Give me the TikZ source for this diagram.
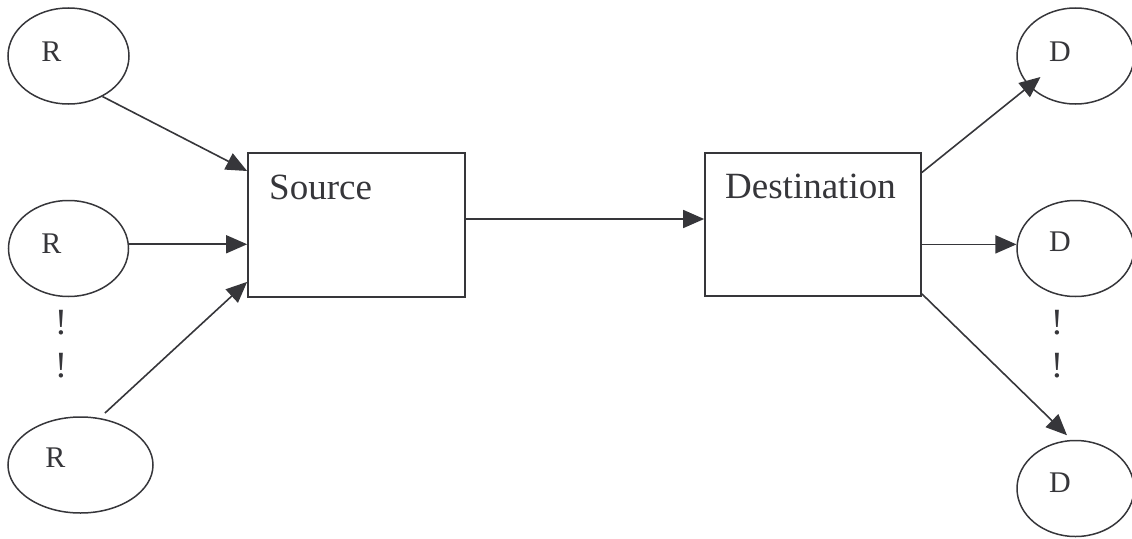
\documentclass[tikz,border=0pt]{standalone}
\usepackage{fontspec}
\setmainfont{Liberation Serif}
\usetikzlibrary{shapes.geometric,arrows.meta}
\definecolor{ink}{RGB}{54,54,58}
\tikzset{
  oval/.style={ellipse,draw=ink,line width=1.5pt,inner sep=0pt},
  boxnode/.style={rectangle,draw=ink,line width=1.7pt,inner sep=0pt},
  small/.style={text=ink,inner sep=0pt,anchor=base,font=\fontsize{30}{34}\selectfont},
  big/.style={text=ink,inner sep=0pt,anchor=base west,font=\fontsize{37}{42}\selectfont},
  bang/.style={text=ink,inner sep=0pt,anchor=base,font=\fontsize{37}{42}\selectfont},
  conn/.style={draw=ink,line width=1.6pt,-{Triangle[length=21pt,width=18pt]}}
}
\begin{document}
\begin{tikzpicture}[x=1pt,y=-1pt]
\useasboundingbox (0,0) rectangle (1132,538);
% ellipses
\node[oval,minimum width=121pt,minimum height=96pt] (r1) at (68.5,56) {};
\node[oval,minimum width=120pt,minimum height=96pt] (r2) at (68.5,248.5) {};
\node[oval,minimum width=145pt,minimum height=96pt] (r3) at (80.5,465) {};
\node[oval,minimum width=117pt,minimum height=96pt] (d1) at (1075.5,56) {};
\node[oval,minimum width=117pt,minimum height=96pt] (d2) at (1075.5,248.5) {};
\node[oval,minimum width=117pt,minimum height=96pt] (d3) at (1075.5,488.5) {};
% labels
\node[small] (lr1) at (51.5,61.5) {R};
\node[small] (lr2) at (51.5,253) {R};
\node[small] (lr3) at (55.5,467.5) {R};
\node[small] (ld1) at (1060,61.5) {D};
\node[small] (ld2) at (1060,251.5) {D};
\node[small] (ld3) at (1060,492.5) {D};
% boxes
\node[boxnode,minimum width=217pt,minimum height=144pt] (src) at (356.5,225) {};
\node[boxnode,minimum width=216pt,minimum height=143pt] (dst) at (813,224.5) {};
\node[big] (srclbl) at (269,199) {Source};
\node[big] (dstlbl) at (725,198) {Destination};
% dots
\node[bang] (e1) at (61,334) {!};
\node[bang] (e2) at (61,377) {!};
\node[bang] (e3) at (1057,334) {!};
\node[bang] (e4) at (1057,377) {!};
% connectors
\draw[conn] (r1.-50) -- ([yshift=54pt]src.west);
\draw[conn] (r2.4) -- (src.west |- r2.4);
\draw[conn] ([yshift=6pt]r3.62) -- ([yshift=16pt]src.south west);
\draw[conn] ([yshift=6pt]src.east) -- ([yshift=6pt]src.east -| dst.west);
\draw[conn] ([yshift=52pt]dst.east) -- ([xshift=-35pt,yshift=-21pt]d1.center);
\draw[conn] (dst.east |- d2.176) -- (d2.176);
\draw[conn] ([yshift=3pt]dst.south east) -- ([yshift=5pt]d3.100);
\end{tikzpicture}
\end{document}
